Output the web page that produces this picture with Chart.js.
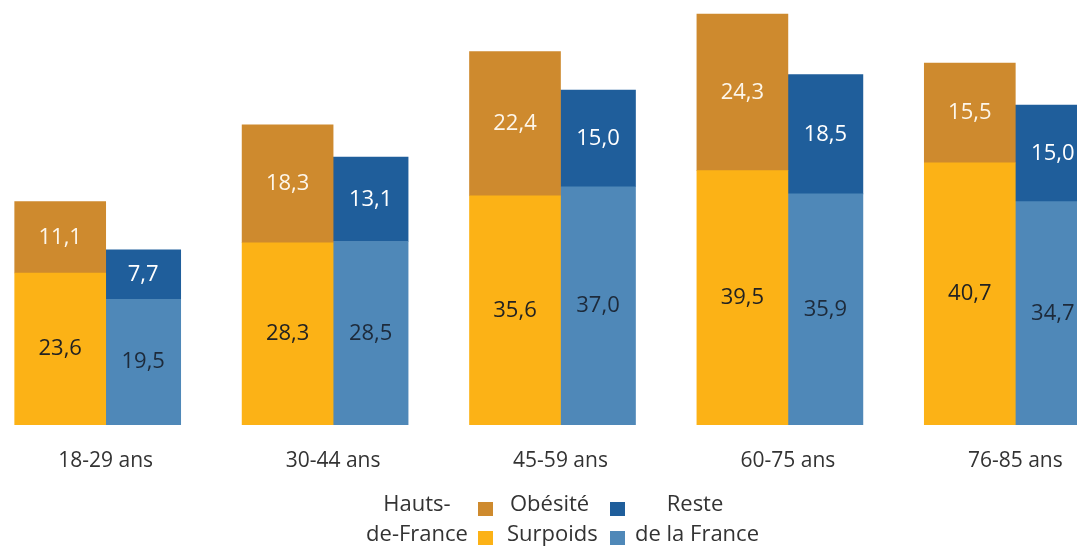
<!DOCTYPE html>
<html>
<head>
<meta charset="utf-8">
<script src="https://cdn.jsdelivr.net/npm/chart.js@4/dist/chart.umd.min.js"></script>
<style>
  html, body { margin: 0; padding: 0; background: #fff; overflow: hidden; }
  #wrap { position: absolute; left: -8px; top: 0; width: 1137px; height: 546px; }
</style>
</head>
<body>
<div id="wrap"><canvas id="myBarChart"></canvas></div>
<script>
// data
var ageGroups = ['18-29 ans', '30-44 ans', '45-59 ans', '60-75 ans', '76-85 ans'];
var hdfSurpoids = [23.6, 28.3, 35.6, 39.5, 40.7];
var hdfObesite = [11.1, 18.3, 22.4, 24.3, 15.5];
var resteSurpoids = [19.5, 28.5, 37.0, 35.9, 34.7];
var resteObesite = [7.7, 13.1, 15.0, 18.5, 15.0];

var OFFSET = 8; // canvas starts 8px left of the page

// numbers inside the bars
var valueLabels = {
    id: 'valueLabels',
    afterDatasetsDraw(chart) {
        var ctx = chart.ctx;
        ctx.save();
        ctx.font = '22px "Open Sans"';
        ctx.textAlign = 'center';
        ctx.textBaseline = 'middle';
        chart.data.datasets.forEach(function (ds, i) {
            chart.getDatasetMeta(i).data.forEach(function (bar, j) {
                ctx.fillStyle = ds.labelColor;
                var txt = ds.data[j].toFixed(1).replace('.', ',');
                ctx.fillText(txt, bar.x, (bar.y + bar.base) / 2);
            });
        });
        ctx.restore();
    }
};

// two-column legend at the bottom
var bottomLegend = {
    id: 'bottomLegend',
    afterDraw(chart) {
        var ctx = chart.ctx;
        var x = function (v) { return v + OFFSET; };
        ctx.save();
        ctx.font = '22px "Open Sans"';
        ctx.fillStyle = '#333';
        ctx.textBaseline = 'alphabetic';
        ctx.textAlign = 'center';
        ctx.fillText('Hauts-', x(417), 511);
        ctx.fillText('de-France', x(417), 541);
        ctx.fillText('Reste', x(695), 511);
        ctx.fillText('de la France', x(697), 541);
        ctx.textAlign = 'left';
        ctx.fillText('Obésité', x(510), 511);
        ctx.fillText('Surpoids', x(507), 541);
        var ds = chart.data.datasets;
        ctx.fillStyle = ds[1].backgroundColor; ctx.fillRect(x(478), 502, 15, 14);
        ctx.fillStyle = ds[0].backgroundColor; ctx.fillRect(x(478), 531, 15, 14);
        ctx.fillStyle = ds[3].backgroundColor; ctx.fillRect(x(610), 502, 15, 14);
        ctx.fillStyle = ds[2].backgroundColor; ctx.fillRect(x(610), 531, 15, 14);
        ctx.restore();
    }
};

new Chart('myBarChart', {
    type: 'bar',
    data: {
        labels: ageGroups,
        datasets: [
            {
                label: 'Hauts-de-France Surpoids',
                stack: 'hdf',
                data: hdfSurpoids,
                backgroundColor: '#FCB216',
                labelColor: '#222',
                barThickness: 91
            },
            {
                label: 'Hauts-de-France Obésité',
                stack: 'hdf',
                data: hdfObesite,
                backgroundColor: '#CE8A2E',
                labelColor: '#fdf6ea',
                barThickness: 91
            },
            {
                label: 'Reste de la France Surpoids',
                stack: 'reste',
                data: resteSurpoids,
                backgroundColor: '#4F88B8',
                labelColor: '#1d2a3a',
                barThickness: 75
            },
            {
                label: 'Reste de la France Obésité',
                stack: 'reste',
                data: resteObesite,
                backgroundColor: '#1F5E9B',
                labelColor: '#fff',
                barThickness: 75
            }
        ]
    },
    options: {
        responsive: true,
        maintainAspectRatio: false,
        animation: false,
        layout: { padding: 0 },
        plugins: {
            legend: { display: false },
            tooltip: { enabled: false }
        },
        scales: {
            x: {
                stacked: true,
                grid: { display: false, drawTicks: false },
                border: { display: false },
                ticks: {
                    padding: 23,
                    color: '#333',
                    font: { family: 'Open Sans', size: 21 }
                },
                afterFit: function (scale) { scale.height = 121; }
            },
            y: {
                stacked: true,
                display: false,
                min: 0,
                max: 66
            }
        }
    },
    plugins: [valueLabels, bottomLegend]
});
</script>
</body>
</html>
